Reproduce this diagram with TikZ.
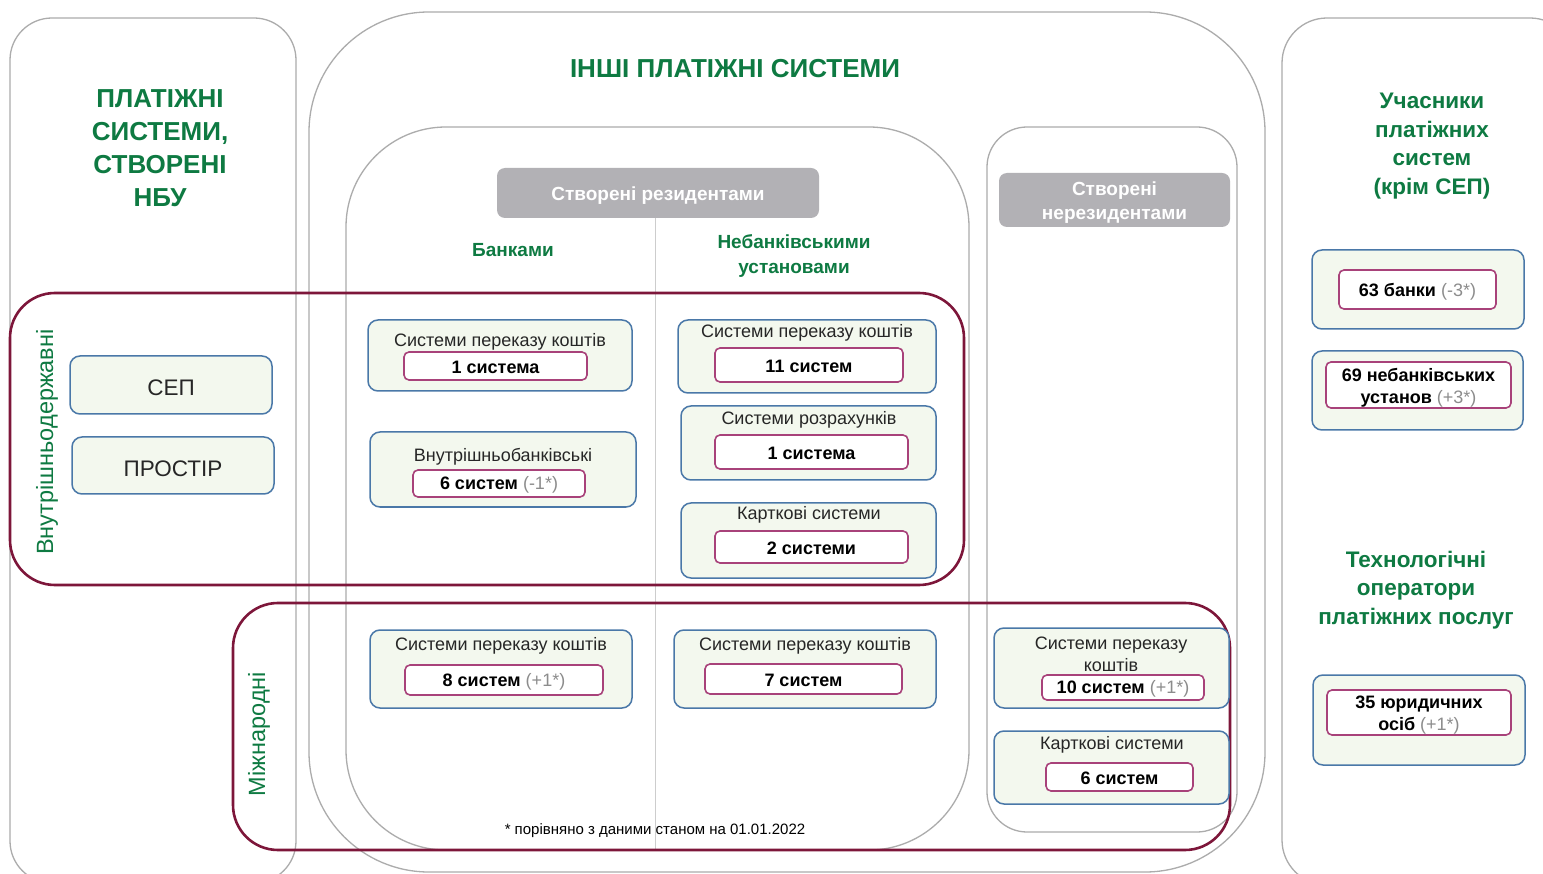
\documentclass[tikz,border=0pt]{standalone}
\usepackage{fontspec}
\setmainfont{Liberation Sans}
\definecolor{gframe}{RGB}{172,172,172}
\definecolor{gsep}{RGB}{205,205,205}
\definecolor{ngreen}{RGB}{14,122,66}
\definecolor{maroonr}{RGB}{125,22,58}
\definecolor{boxfill}{RGB}{243,248,238}
\definecolor{boxline}{RGB}{74,120,168}
\definecolor{pillc}{RGB}{168,66,122}
\definecolor{hdr}{RGB}{178,177,181}
\definecolor{notec}{RGB}{140,140,140}
\definecolor{txt}{RGB}{38,38,38}
\newcommand\dnote[1]{{\mdseries\color{notec}#1}}
\begin{document}
\begin{tikzpicture}[x=1pt,y=-1pt,
  frame/.style={draw=gframe, line width=1.3pt},
  region/.style={draw=maroonr, line width=2.6pt},
  sbox/.style={draw=boxline, fill=boxfill, line width=1.5pt, rounded corners=10pt, inner sep=0pt},
  pill/.style={draw=pillc, fill=white, line width=1.6pt, rounded corners=5pt, inner sep=0pt, font=\fontsize{18}{22}\selectfont\bfseries, align=center},
  ptxt/.style={pill, draw=none, fill=none},
  lbl/.style={font=\fontsize{18}{22}\selectfont, text=txt, align=center, inner sep=0pt},
  ttl/.style={font=\fontsize{26}{33}\selectfont\bfseries, text=ngreen, align=center, inner sep=0pt},
  sttl/.style={font=\fontsize{22.5}{28.5}\selectfont\bfseries, text=ngreen, align=center, inner sep=0pt},
  col/.style={font=\fontsize{19}{25}\selectfont\bfseries, text=ngreen, align=center, inner sep=0pt},
  rot/.style={font=\fontsize{23.5}{27}\selectfont, text=ngreen, rotate=90, inner sep=0pt},
  hdrbox/.style={fill=hdr, rounded corners=8pt, text=white, font=\fontsize{19}{24}\selectfont\bfseries, align=center, inner sep=0pt},
]
\clip (0,0) rectangle (1543,874);
\fill[white] (0,0) rectangle (1543,874);

% grey frames
\draw[frame, rounded corners=42pt] (10,18) rectangle (296,883);
\draw[frame, rounded corners=120pt] (309,12) rectangle (1265,872);
\draw[frame, rounded corners=45pt] (1282,18) rectangle (1575,885);
\draw[frame, rounded corners=100pt] (346,127) rectangle (969,850);
\draw[frame, rounded corners=40pt] (987,127) rectangle (1237,832);

% headers
\node[hdrbox, minimum width=322pt, minimum height=50pt] (hres) at (658,193) {};
\node[hdrbox, fill=none] (hresl) at (658,196) {Створені резидентами};
\node[hdrbox, minimum width=231pt, minimum height=54pt] (hnon) at (1114.5,200) {};
\node[hdrbox, fill=none] (hnonl) at (1114.5,203) {Створені\\нерезидентами};
\coordinate (sepend) at (655,850);
\draw[gsep, line width=1pt] (hres.south -| sepend) -- (sepend);

% titles
\node[ttl] (tnbu) at (160,148.5) {ПЛАТІЖНІ\\СИСТЕМИ,\\СТВОРЕНІ\\НБУ};
\node[ttl] (tother) at (735,69) {ІНШІ ПЛАТІЖНІ СИСТЕМИ};
\node[sttl] (tpart) at (1432,146) {Учасники\\платіжних\\систем\\(крім СЕП)};
\node[sttl] (ttech) at (1416,590) {Технологічні\\оператори\\платіжних послуг};
\node[col] (cbank) at (513,250) {Банками};
\node[col] (cnon) at (794,256) {Небанківськими\\установами};

% maroon regions
\draw[region, rounded corners=45pt] (10,293) rectangle (964,585);
\draw[region, rounded corners=45pt] (233,603) rectangle (1230,850);
\node[rot] (rdom) at (47,442) {Внутрішньодержавні};
\node[rot] (rint) at (259,734) {Міжнародні};

% NBU systems
\node[sbox, minimum width=202pt, minimum height=58pt] (sep) at (171,385) {};
\node[font=\fontsize{22.5}{26}\selectfont, text=txt, inner sep=0pt] (sepl) at (171,388) {СЕП};
\node[sbox, minimum width=202pt, minimum height=57pt] (prostir) at (173,465.5) {};
\node[font=\fontsize{22.5}{26}\selectfont, text=txt, inner sep=0pt] (prostirl) at (173,468.5) {ПРОСТІР};

% banks, domestic
\node[sbox, minimum width=264pt, minimum height=71pt] (b1) at (500,355.5) {};
\node[lbl] (b1l) at (500,342) {Системи переказу коштів};
\node[pill, minimum width=183pt, minimum height=28pt] (b1p) at (495.5,366) {};
\node[ptxt] (b1t) at (495.5,367.5) {1 система};
\node[sbox, minimum width=266pt, minimum height=75pt] (b2) at (503,469.5) {};
\node[lbl] (b2l) at (503,457) {Внутрішньобанківські};
\node[pill, minimum width=172pt, minimum height=27pt] (b2p) at (499,483.5) {};
\node[ptxt] (b2t) at (499,485) {6 систем \dnote{(-1*)}};

% non-banks, domestic
\node[sbox, minimum width=258pt, minimum height=73pt] (n1) at (807,356.5) {};
\node[lbl] (n1l) at (807,333) {Системи переказу коштів};
\node[pill, minimum width=188pt, minimum height=34pt] (n1p) at (809,365) {};
\node[ptxt] (n1t) at (809,366.5) {11 систем};
\node[sbox, minimum width=255pt, minimum height=74pt] (n2) at (808.5,443) {};
\node[lbl] (n2l) at (809,420) {Системи розрахунків};
\node[pill, minimum width=193pt, minimum height=34pt] (n2p) at (811.5,452) {};
\node[ptxt] (n2t) at (811.5,453) {1 система};
\node[sbox, minimum width=255pt, minimum height=75pt] (n3) at (808.5,540.5) {};
\node[lbl] (n3l) at (809,515) {Карткові системи};
\node[pill, minimum width=193pt, minimum height=32pt] (n3p) at (811.5,547) {};
\node[ptxt] (n3t) at (811.5,548) {2 системи};

% international
\node[sbox, minimum width=262pt, minimum height=78pt] (ib) at (501,669) {};
\node[lbl] (ibl) at (501,646) {Системи переказу коштів};
\node[pill, minimum width=198pt, minimum height=30pt] (ibp) at (504,680) {};
\node[ptxt] (ibt) at (504,682) {8 систем \dnote{(+1*)}};
\node[sbox, minimum width=262pt, minimum height=78pt] (inb) at (805,669) {};
\node[lbl] (inbl) at (805,646) {Системи переказу коштів};
\node[pill, minimum width=197pt, minimum height=30pt] (inbp) at (803.5,679) {};
\node[ptxt] (inbt) at (803.5,680.5) {7 систем};

% non-residents
\node[sbox, minimum width=235pt, minimum height=80pt] (r1) at (1111.5,668) {};
\node[lbl] (r1l) at (1111,654) {Системи переказу\\коштів};
\node[pill, minimum width=162pt, minimum height=25pt] (r1p) at (1123,687.5) {};
\node[ptxt] (r1t) at (1123,689) {10 систем \dnote{(+1*)}};
\node[sbox, minimum width=235pt, minimum height=73pt] (r2) at (1111.5,767.5) {};
\node[lbl] (r2l) at (1112,745) {Карткові системи};
\node[pill, minimum width=147pt, minimum height=28pt] (r2p) at (1119.5,777) {};
\node[ptxt] (r2t) at (1119.5,778.5) {6 систем};

% participants
\node[sbox, minimum width=212pt, minimum height=79pt] (u1) at (1418,289.5) {};
\node[pill, minimum width=157pt, minimum height=39pt] (u1p) at (1417.5,289.5) {};
\node[ptxt] (u1t) at (1417.5,291.5) {63 банки \dnote{(-3*)}};
\node[sbox, minimum width=211pt, minimum height=79pt] (u2) at (1417.5,390.5) {};
\node[pill, minimum width=185pt, minimum height=46pt] (u2p) at (1418.5,385) {};
\node[ptxt] (u2t) at (1418.5,388) {69 небанківських\\установ \dnote{(+3*)}};
\node[sbox, minimum width=212pt, minimum height=90pt] (t1) at (1419,720) {};
\node[pill, minimum width=184pt, minimum height=45pt] (t1p) at (1419,712.5) {};
\node[ptxt] (t1t) at (1419,715.5) {35 юридичних\\осіб \dnote{(+1*)}};

% footnote
\node[font=\fontsize{15}{18}\selectfont, text=black, inner sep=0pt] (fn) at (655,831) {* порівняно з даними станом на 01.01.2022};
\end{tikzpicture}
\end{document}
